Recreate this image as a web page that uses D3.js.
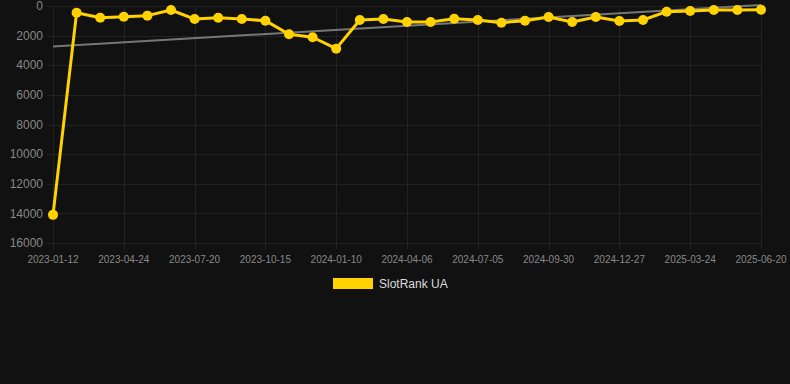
<!DOCTYPE html>
<html>
<head>
<meta charset="utf-8">
<script src="https://cdn.jsdelivr.net/npm/d3@7"></script>
<style>
  html, body { margin: 0; padding: 0; background: #111111; }
  svg { display: block; font-family: "Liberation Sans", Arial, sans-serif; }
</style>
</head>
<body>
<div id="chart"></div>
<script>
"use strict";

// one point per month-ish snapshot, only every third one is labelled on the axis
const dates = [
  "2023-01-12", "2023-02-14", "2023-03-21", "2023-04-24", "2023-05-23", "2023-06-21",
  "2023-07-20", "2023-08-18", "2023-09-16", "2023-10-15", "2023-11-13", "2023-12-12",
  "2024-01-10", "2024-02-08", "2024-03-08", "2024-04-06", "2024-05-06", "2024-06-05",
  "2024-07-05", "2024-08-03", "2024-09-01", "2024-09-30", "2024-10-29", "2024-11-28",
  "2024-12-27", "2025-01-25", "2025-02-23", "2025-03-24", "2025-04-22", "2025-05-22",
  "2025-06-20"
];
const ranks = [
  14100, 450, 790, 720, 650, 270, 880, 790, 880, 990, 1910, 2110, 2880,
  945, 880, 1080, 1080, 855, 945, 1125, 990, 743, 1080, 743, 1013, 945,
  385, 338, 270, 270, 250
];
const yTicks = [0, 2000, 4000, 6000, 8000, 10000, 12000, 14000, 16000];
const seriesName = "SlotRank UA";

const width = 790;
const height = 384;
const margin = { top: 6, right: 29, bottom: 141, left: 53 };

const svg = d3.select("#chart").append("svg")
  .attr("width", width)
  .attr("height", height);

svg.append("rect")
  .attr("width", width)
  .attr("height", height)
  .attr("fill", "#111111");

const x = d3.scalePoint()
  .domain(dates)
  .range([margin.left, width - margin.right]);

const y = d3.scaleLinear()
  .domain([0, 16000])
  .range([margin.top, height - margin.bottom]);

const labelled = dates.filter((d, i) => i % 3 === 0);

// grid
const grid = svg.append("g").attr("stroke", "#222222").attr("stroke-width", 1);
grid.selectAll(".hy")
  .data(yTicks)
  .join("line")
  .attr("x1", margin.left - 6)
  .attr("x2", width - margin.right)
  .attr("y1", (d) => Math.round(y(d)) + 0.5)
  .attr("y2", (d) => Math.round(y(d)) + 0.5);
grid.selectAll(".vx")
  .data(labelled)
  .join("line")
  .attr("x1", (d) => Math.round(x(d)) + 0.5)
  .attr("x2", (d) => Math.round(x(d)) + 0.5)
  .attr("y1", margin.top)
  .attr("y2", height - margin.bottom + 6);

// y axis labels
svg.append("g")
  .selectAll("text")
  .data(yTicks)
  .join("text")
  .attr("x", margin.left - 10)
  .attr("y", (d) => y(d))
  .attr("dy", "0.35em")
  .attr("text-anchor", "end")
  .attr("fill", "#888888")
  .style("font-size", "12px")
  .text((d) => d);

// x axis labels
svg.append("g")
  .selectAll("text")
  .data(labelled)
  .join("text")
  .attr("x", (d) => x(d))
  .attr("y", height - margin.bottom + 20)
  .attr("text-anchor", "middle")
  .attr("fill", "#888888")
  .style("font-size", "10px")
  .text((d) => d);

// least squares trend over the point index
const n = ranks.length;
const mx = d3.mean(ranks, (d, i) => i);
const my = d3.mean(ranks);
const slope = d3.sum(ranks, (d, i) => (i - mx) * (d - my)) /
  d3.sum(ranks, (d, i) => (i - mx) * (i - mx));
const icpt = my - slope * mx;

svg.append("line")
  .attr("x1", x(dates[0]))
  .attr("x2", x(dates[n - 1]))
  .attr("y1", y(icpt))
  .attr("y2", y(icpt + slope * (n - 1)))
  .attr("stroke", "#777777")
  .attr("stroke-width", 2);

const pts = dates.map((d, i) => ({ date: d, rank: ranks[i] }));

svg.append("path")
  .datum(pts)
  .attr("fill", "none")
  .attr("stroke", "#ffd200")
  .attr("stroke-width", 3)
  .attr("stroke-linejoin", "round")
  .attr("d", d3.line().x((d) => x(d.date)).y((d) => y(d.rank)));

svg.append("g")
  .selectAll("circle")
  .data(pts)
  .join("circle")
  .attr("cx", (d) => x(d.date))
  .attr("cy", (d) => y(d.rank))
  .attr("r", 5)
  .attr("fill", "#ffd200");

// legend
const legend = svg.append("g").attr("transform", "translate(333,278)");
legend.append("rect")
  .attr("width", 40)
  .attr("height", 11)
  .attr("fill", "#ffd200");
legend.append("text")
  .attr("x", 46)
  .attr("y", 10)
  .attr("fill", "#dddddd")
  .style("font-size", "12px")
  .text(seriesName);
</script>
</body>
</html>
